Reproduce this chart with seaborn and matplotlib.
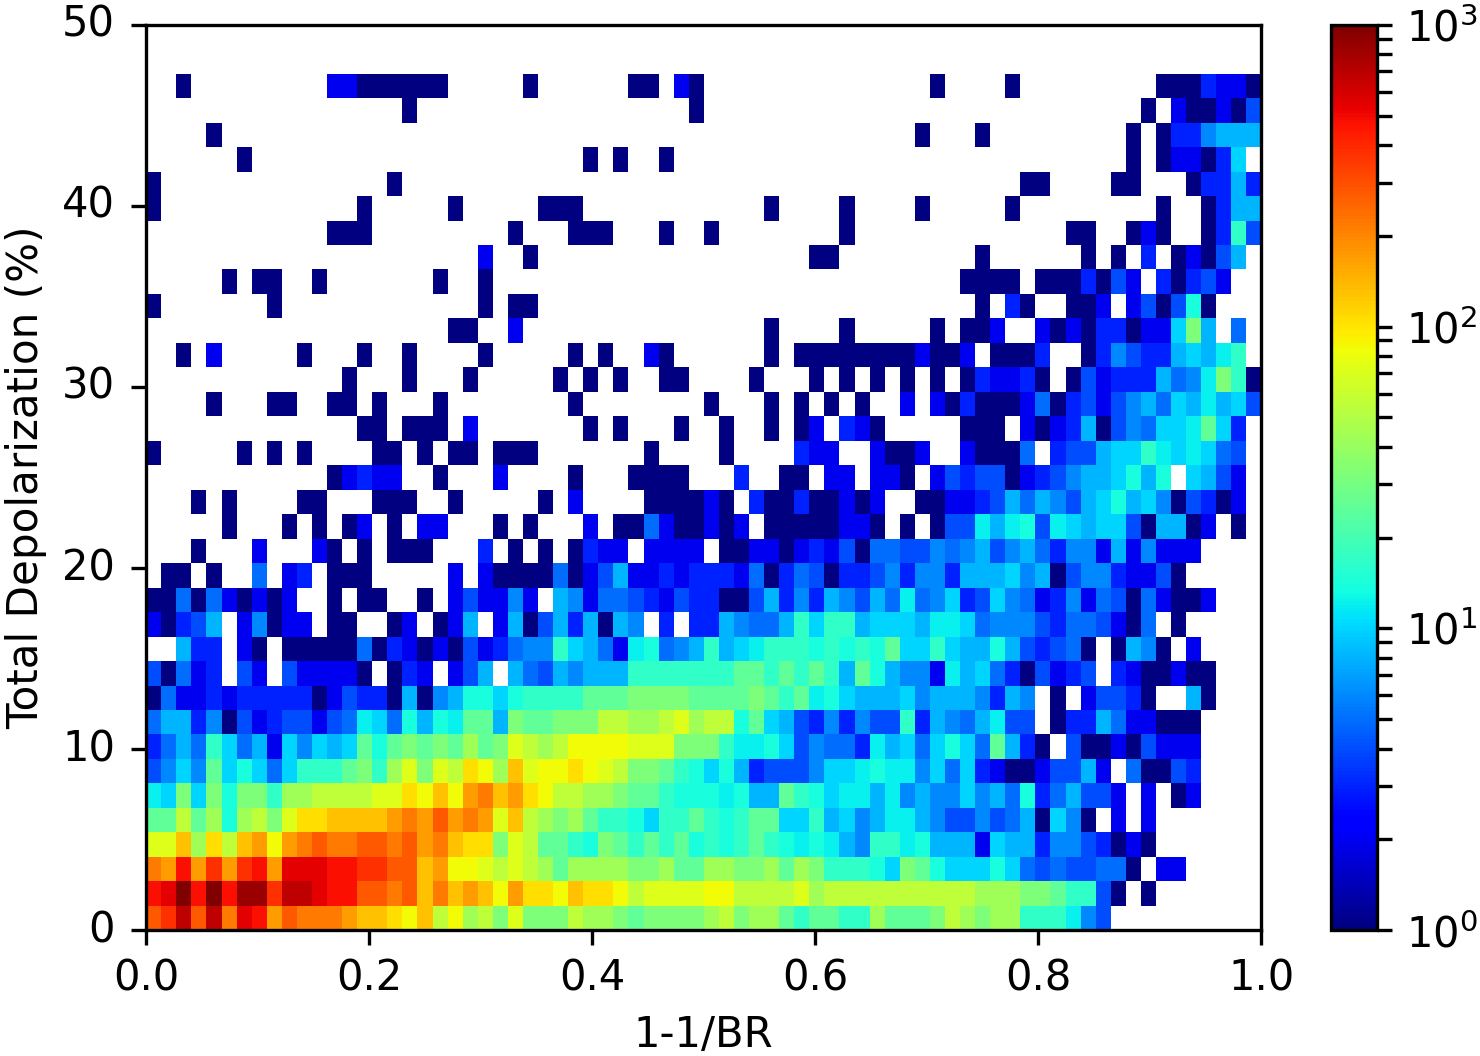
import numpy as np
import pandas as pd
import matplotlib
matplotlib.use("Agg")
import matplotlib.pyplot as plt
import seaborn as sns
from matplotlib.colors import LogNorm
from matplotlib.ticker import LogLocator, NullFormatter

# counts per letter, "." is an empty bin
levels = "abcdefghijklmnopqrstuvwxyzAB"
counts = [1, 2, 3, 4, 5, 6, 8, 10, 12, 14, 17, 25, 32, 43, 55, 72, 84, 105,
          130, 170, 220, 280, 370, 470, 540, 680, 840, 1000]

# 2D histogram, top row first, blocks of 10 columns
rows = [
    ".......... .......... .......... .......... .......... .......... .......... ....",
    ".......... .......... .......... .......... .......... .......... .......... ....",
    "..a....... ..bbaaaaaa .....a.... ..aa.ba... .......... ..a....a.. .......aaa cbba",
    ".......... .......a.. .......... ......a... .......... .......... ......a.ba abad",
    "....a..... .......... .......... .......... .......... .a...a.... .....a.acc fggg",
    "......a... .......... .........a .a..a..... .......... .......... .....a.abb ach.",
    "a......... ......a... .......... .......... .......... ........aa ....aa...a ccgc",
    "a......... ....a..... a.....aaa. .......... .a....a... .a.....a.. .......a.. acgg",
    ".......... ..aaa..... ....a...aa a...a..a.. ......a... .......... .aa..aba.. ackd",
    ".......... .......... ..b..a.... .......... ....aa.... .....a.... ..a.a.c.ab adg.",
    ".....a.aa. .a.......a ..a....... .......... .......... ....aaaa.a aacadb.cac db..",
    "a.......a. .......... ..a.aa.... .......... .......... .....a.ca. .aab.bdadj a...",
    ".......... .......... aa..b..... .......... .a....a... ..a.aab..b abaccabbhm g.e.",
    "..a.b..... a...a..a.. ..a.....a. a..ba..... .a.aaaaaaa abaab.aaac ..acfdccgh gik.",
    ".......... ...a...a.. .a.....a.a .a..aa.... a...a.a.a. a.a.acbbca .adbcccgef imka",
    "....a...aa ..aa.a...a ........a. .......a.. .a.a.a.a.. b.bacaaabe acdbdfgehg ighd",
    ".......... ....aa.aaa .b.......a .a...a..a. .a.ab.cba. ....aaa.ba bcgadfehhi lhc.",
    "a.....a.a. a....aa.a. aa.aaa.... ...a....a. ...cbb..ba ab..baaae. cddghhkihi hed.",
    ".......... ..abcbb..a ...b....a. ..aaaa...c ..aa.bb.bb a.bdcddabc dfgghjgj.h gdb.",
    "...a.a.... aa...aaa.. a.....a.b. ...aaaaba. caacaabab. .aabbcdgeg fdghjghfad cab.",
    ".....a...a .a.ab.a.bb ...a.a...b .aaebaabab .aaaaabba. a.addigijd ihghhdagga b.a.",
    "...a...b.. .ba.a.aaa. ..c.a.a.ac bb.bbbb.aa bbabcbdaee ddfefgdfge cffbgbfbbb ....",
    ".aa.a..e.b c.aaa..... b.baaaaeab dgbbcbcccb eacedaccdf cffcggghfg adffcbbda. ....",
    "aaeaebabab ..a.aa..a. bdbbfb.gfb eedcbdccaa dgcfcgfdge iefhcdhfeb cfbedaebaa b...",
    "bacdg.bfab b.aa..ab.a bg.bgadgcg agf.c.ccgf eegkhkkghh hgiihefffd ceedbae.a. ....",
    "..gcc.ba.a aaaaeacbab adbceffkhg ebijefgkgh ikkkjkjkjl hhkhggjgdc dea.agfa.b ....",
    "daebc.db.d bbbba.acb. bdg.gedgfg ggkkkkkkkl lklklkgljg ffbighecad bcd.cbaaba a...",
    "aebbcbcccc cabdccagaf gjjhjkkkkl llmmmmllll mlklijhggg hfgggfcgf. a.bddca..g a...",
    "eggcfadbcd dbdeihejgj illgmllmmm oonnopnooj lhgdcfcfdd kcgfegidd. accgebbaaa ....",
    "cegekhegbh fhghljlmlm lnlmponoqq qqpppmmmki ijhdfeecig hehjhelgca .daabadbbb ....",
    "dfhflhjheh kkklmknpmp orqnspqqrq pommlkjhjg cdddfhhiji ifhehcbaab ddgb.eaadc ....",
    "ihmhmjmmkn noooopprqs qtustrqoon nmllkjjjij gglkjhiigi fgffhfgejc egddb.b.ab ....",
    "llolnjnomp rrsssstutv tutpsonmnl kkjhkklkjk llhhkghfgi igfddfdega hfa.b.b... ....",
    "ppsnrostqt uvuuvvuvtu srrmpollkj mlklkljkjk lkjijigfkk ijgggbhggc ffdcaba... ....",
    "utxtwtwxty yyxxwwvvst qqpoponlnn nnmmnllnnm mnlnmkkkjh mljhhhjhed eddeea.bb. ....",
    "xyBxBxAAwz zyxxvvuvsu stsqtrrqsr rqoppppqqo ooopnooooo ooooonnnmm lkkda.a... ....",
    "vwzvzuyxtv uuutssrqso qnompmmmon nmlmmmmnom nnlkllkknl llmonmnnkk kifd...... ....",
]

xticks = [0.0, 0.2, 0.4, 0.6, 0.8, 1.0]
yticks = [0, 10, 20, 30, 40, 50]

lookup = dict(zip(levels, counts))
table = []
for r in rows:
    r = r.replace(" ", "")
    assert len(r) == 74, r
    table.append([lookup.get(c, np.nan) for c in r])
df = pd.DataFrame(table)

plt.rcParams["font.size"] = 10

fig = plt.figure(figsize=(1480 / 300, 1056 / 300), dpi=300)
W, H = 1480, 1056
ax = fig.add_axes([146.2 / W, 1 - 930.3 / H, (1261.5 - 146.2) / W, (930.3 - 24.7) / H])
cax = fig.add_axes([1331.3 / W, 1 - 930.3 / H, (1376.5 - 1331.3) / W, (930.3 - 24.7) / H])

sns.heatmap(df, ax=ax, cbar_ax=cax, cmap="jet", norm=LogNorm(vmin=1, vmax=1000),
            mask=df.isna(), linewidths=0, rasterized=True)

# heatmap removes the frame
for s in ax.spines.values():
    s.set_visible(True)
    s.set_linewidth(0.8)

n_rows, n_cols = df.shape
ax.set_xticks([v * n_cols for v in xticks])
ax.set_xticklabels([f"{v:.1f}" for v in xticks], rotation=0)
ax.set_yticks([(50 - v) / 50 * n_rows for v in yticks])
ax.set_yticklabels([str(v) for v in yticks], rotation=0)
ax.tick_params(axis="x", length=3.5, width=0.8, labelsize=10, pad=3)
ax.tick_params(axis="y", length=3.5, width=0.8, labelsize=10, pad=4)
ax.set_xlabel("1-1/BR", fontsize=10, labelpad=3.4, x=0.4995)
ax.set_ylabel("Total Depolarization (%)", fontsize=10.1, labelpad=3.5)

cbar = ax.collections[0].colorbar
cbar.outline.set_linewidth(0.8)
cbar.outline.set_visible(True)
cax.yaxis.set_major_locator(LogLocator(base=10))
cax.yaxis.set_minor_locator(LogLocator(base=10, subs=range(2, 10)))
cax.yaxis.set_minor_formatter(NullFormatter())
cax.tick_params(which="both", length=3.5, width=0.8, labelsize=10)

fig.savefig("out.png", dpi=300)
